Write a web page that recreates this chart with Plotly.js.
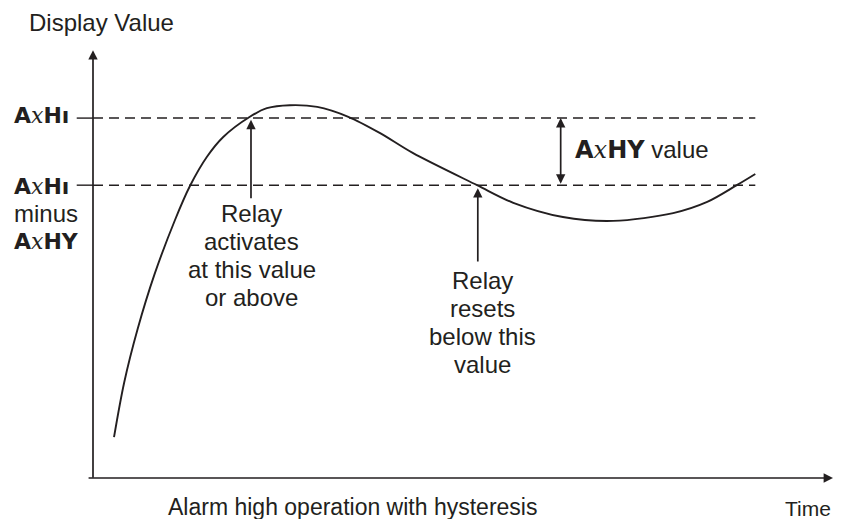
<!DOCTYPE html>
<html>
<head>
<meta charset="utf-8">
<script src="https://cdn.plot.ly/plotly-3.0.1.min.js"></script>
<style>html,body{margin:0;padding:0;background:#fff;}#chart{width:841px;height:519px;}</style>
</head>
<body>
<div id="chart"></div>
<script>
// ---- data (schematic units: time 0..100, display value 0..100) ----
const time = [2.84, 4.20, 6.04, 8.32, 11.08, 13.1, 15.4, 17.6, 21.2, 23.5, 26.6, 30.3, 34.5, 38.8, 43.2, 51.9, 56.8, 63.5, 70.3, 78.4, 83.0, 87.0, 89.5];
const displayValue = [9.5, 22.1, 34.7, 47.4, 60.0, 67.9, 74.7, 79.3, 84.0, 86.0, 86.7, 86.3, 84.0, 80.2, 75.6, 68.1, 64.0, 60.7, 59.8, 61.6, 64.2, 68.1, 70.7];
const alarmHigh = 83.7;          // AxHi
const hysteresis = 15.6;         // AxHY
const alarmReset = alarmHigh - hysteresis;
const activateTime = 21.35;
const resetTime = 52.0;
const hystArrowTime = 63.2;
const activateText = ['Relay', 'activates', 'at this value', 'or above'];
const resetText = ['Relay', 'resets', 'below this', 'value'];

const INK = '#231f20';
const FONT = 'Liberation Sans, Arial, sans-serif';
const seg = s => '<span style="font-family:DejaVu Sans;font-weight:bold">' + s + '</span>';
const ex = '<span style="font-family:DejaVu Serif;font-style:italic">x</span>';
const AxHi = seg('A') + ex + seg('Hı');
const AxHY = seg('A') + ex + seg('HY');

const curve = {
  x: time, y: displayValue, type: 'scatter', mode: 'lines',
  line: {color: INK, width: 1.9, shape: 'spline', smoothing: 0.9},
  hoverinfo: 'skip', showlegend: false
};

const tEnd = time[time.length - 1];
const shapes = [
  {type:'line', xref:'x', yref:'y', x0:0, x1:tEnd, y0:alarmHigh, y1:alarmHigh, line:{color:INK, width:1.5, dash:'10px,6px'}},
  {type:'line', xref:'x', yref:'y', x0:0, x1:tEnd, y0:alarmReset, y1:alarmReset, line:{color:INK, width:1.5, dash:'10px,6px'}},
  {type:'line', xref:'x', yref:'y', x0:-2.2, x1:0, y0:alarmHigh, y1:alarmHigh, line:{color:INK, width:1.4}},
  {type:'line', xref:'x', yref:'y', x0:-2.2, x1:0, y0:alarmReset, y1:alarmReset, line:{color:INK, width:1.4}}
];

function arrow(x, y, ax, ay, both) {
  return {x:x, y:y, ax:ax, ay:ay, xref:'x', yref:'y', axref:'x', ayref:'y', text:'',
    showarrow:true, arrowhead:2, arrowsize:1.1, arrowwidth:1.7, arrowcolor:INK,
    arrowside: both ? 'end+start' : 'end', standoff:0, startstandoff:0};
}
function label(x, y, text, size, anchor) {
  return {x:x, y:y, xref:'x', yref:'y', text:text, showarrow:false,
    font:{family:FONT, size:size || 24, color:INK}, xanchor:anchor || 'center', yanchor:'middle', align:anchor || 'center'};
}

const annotations = [
  // axes with arrowheads
  arrow(0, 99.5, 0, -0.3, false),
  arrow(100, 0, -0.8, 0, false),
  // relay arrows
  arrow(activateTime, alarmHigh - 0.4, activateTime, 64.7, false),
  arrow(resetTime, alarmReset - 0.7, resetTime, 50.0, false),
  arrow(hystArrowTime, alarmHigh, hystArrowTime, alarmReset, true),
  // texts
  label(-8.9, 106, 'Display Value', 24, 'left'),
  label(-11.0, 84.4, AxHi, 22, 'left'),
  label(-11.0, 67.9, AxHi, 22, 'left'),
  label(-11.0, 61.6, 'minus', 24, 'left'),
  label(-11.0, 54.9, AxHY, 22, 'left'),
  label(64.9, 76.3, AxHY + ' value', 24, 'left'),
  label(35.1, -6.7, 'Alarm high operation with hysteresis', 23),
  label(96.6, -7.0, 'Time', 21)
];
const activateY = [61.6, 54.9, 48.4, 41.9];
const resetY = [46.0, 39.5, 32.8, 26.3];
activateText.forEach((t, i) => annotations.push(label(activateTime + 0.1, activateY[i], t)));
resetText.forEach((t, i) => annotations.push(label(resetTime + 0.6, resetY[i], t)));

const X0 = 93, PXX = 7.4, Y0 = 478, PXY = 4.3, W = 841, H = 519;
const layout = {
  width: W, height: H,
  margin: {l:0, r:0, t:0, b:0},
  paper_bgcolor: '#fff', plot_bgcolor: '#fff',
  xaxis: {range: [-X0 / PXX, (W - X0) / PXX], showgrid:false, zeroline:false, showline:false, showticklabels:false, ticks:'', fixedrange:true},
  yaxis: {range: [-(H - Y0) / PXY, Y0 / PXY], showgrid:false, zeroline:false, showline:false, showticklabels:false, ticks:'', fixedrange:true},
  shapes: shapes,
  annotations: annotations,
  showlegend: false
};

Plotly.newPlot('chart', [curve], layout, {displayModeBar:false, staticPlot:true});
</script>
</body>
</html>
